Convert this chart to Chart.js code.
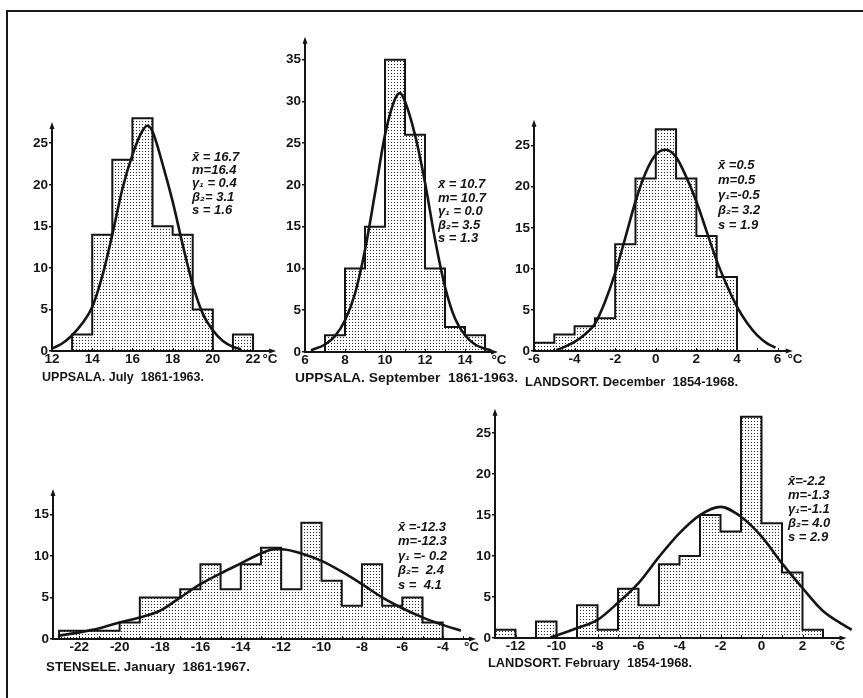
<!DOCTYPE html>
<html><head><meta charset="utf-8">
<script src="https://cdn.jsdelivr.net/npm/chart.js@4"></script>
<style>
html,body{margin:0;padding:0;background:#fff;}
body{width:863px;height:698px;position:relative;overflow:hidden;}
canvas.p{position:absolute;left:0;top:0;}
#frame{position:absolute;left:6px;top:10px;width:900px;height:720px;border-left:2px solid #1a1a1a;border-top:2px solid #1a1a1a;}
</style></head><body>
<div id="frame"></div>
<canvas id="c1" class="p" width="863" height="698"></canvas>
<canvas id="c2" class="p" width="863" height="698"></canvas>
<canvas id="c3" class="p" width="863" height="698"></canvas>
<canvas id="c4" class="p" width="863" height="698"></canvas>
<canvas id="c5" class="p" width="863" height="698"></canvas>
<script>
// ---------------- DATA ----------------
// Uppsala, July 1861-1963 (1 °C classes)
const julyBinStart = 13;
const julyCounts = [2, 14, 23, 28, 15, 14, 5, 0, 2];
const julyCurveX = [12, 12.5, 13, 13.5, 14, 14.5, 15, 15.5, 16, 16.5, 16.75, 17, 17.5, 18, 18.5, 19, 19.5, 20, 20.5, 21, 21.4];
const julyCurveY = [0.3, 0.9, 1.9, 3.3, 5.3, 9, 14, 19.5, 23.6, 26.5, 27.1, 26.4, 22.5, 18, 12.8, 8, 4.5, 2.5, 1.2, 0.5, 0.2];
const julyXTicks = [12, 14, 16, 18, 20, 22];
const julyYTicks = [0, 5, 10, 15, 20, 25];
const julyStats = ['x\u0304 = 16.7', 'm=16.4', '\u03b3\u2081 = 0.4', '\u03b2\u2082= 3.1', 's = 1.6'];
const julyCaption = 'UPPSALA. July  1861-1963.';

// Uppsala, September 1861-1963
const septBinStart = 7;
const septCounts = [2, 10, 15, 35, 26, 10, 3, 2];
const septCurveX = [6.3, 7, 7.5, 8, 8.5, 9, 9.5, 10, 10.5, 10.75, 11, 11.5, 12, 12.5, 13, 13.5, 14, 14.5, 15, 15.3];
const septCurveY = [0.2, 0.9, 1.9, 3.8, 7, 12.2, 19, 26, 30.3, 31, 30, 26, 20.3, 13.5, 7.8, 4, 2, 0.9, 0.4, 0.2];
const septXTicks = [6, 8, 10, 12, 14];
const septYTicks = [0, 5, 10, 15, 20, 25, 30, 35];
const septStats = ['x\u0304 = 10.7', 'm= 10.7', '\u03b3\u2081 = 0.0', '\u03b2\u2082= 3.5', 's = 1.3'];
const septCaption = 'UPPSALA. September  1861-1963.';

// Landsort, December 1854-1968
const decBinStart = -6;
const decCounts = [1, 2, 3, 4, 13, 21, 27, 21, 14, 9];
const decCurveX = [-4.9, -4.5, -4, -3.5, -3, -2.5, -2, -1.5, -1, -0.5, 0, 0.5, 1, 1.5, 2, 2.5, 3, 3.5, 4, 4.5, 5, 5.5, 5.9];
const decCurveY = [0.1, 0.5, 1.1, 2, 3.3, 6, 9.5, 13.8, 18.2, 21.7, 23.9, 24.5, 23.6, 21.2, 18.2, 14.6, 11, 8, 5.4, 3.4, 1.9, 0.9, 0.4];
const decXTicks = [-6, -4, -2, 0, 2, 4, 6];
const decYTicks = [0, 5, 10, 15, 20, 25];
const decStats = ['x\u0304 =0.5', 'm=0.5', '\u03b3\u2081=-0.5', '\u03b2\u2082= 3.2', 's = 1.9'];
const decCaption = 'LANDSORT. December  1854-1968.';

// Stensele, January 1861-1967
const janBinStart = -23;
const janCounts = [1, 1, 1, 2, 5, 5, 6, 9, 6, 9, 11, 6, 14, 7, 4, 9, 4, 5, 2];
const janCurveX = [-23, -22, -21, -20, -19, -18, -17, -16, -15, -14, -13, -12.3, -12, -11, -10, -9, -8, -7, -6, -5, -4, -3.1];
const janCurveY = [0.4, 0.8, 1.3, 2, 2.6, 3.4, 5, 6.6, 7.9, 9.1, 10.3, 10.8, 10.8, 10.3, 9.4, 8.1, 6.6, 5, 3.7, 2.6, 1.7, 1];
const janXTicks = [-22, -20, -18, -16, -14, -12, -10, -8, -6, -4];
const janYTicks = [0, 5, 10, 15];
const janStats = ['x\u0304 =-12.3', 'm=-12.3', '\u03b3\u2081 =- 0.2', '\u03b2\u2082=  2.4', 's =  4.1'];
const janCaption = 'STENSELE. January  1861-1967.';

// Landsort, February 1854-1968
const febBinStart = -13;
const febCounts = [1, 0, 2, 0, 4, 1, 6, 4, 9, 10, 15, 13, 27, 14, 8, 1];
const febCurveX = [-10.3, -10, -9, -8, -7, -6, -5, -4, -3, -2, -1, 0, 1, 2, 3, 4, 4.4];
const febCurveY = [0.1, 0.3, 1.2, 2.2, 4.3, 6.7, 9.9, 12.8, 15, 16, 14.8, 12.4, 9.1, 6.1, 3.3, 1.6, 1.0];
const febXTicks = [-12, -10, -8, -6, -4, -2, 0, 2];
const febYTicks = [0, 5, 10, 15, 20, 25];
const febStats = ['x\u0304=-2.2', 'm=-1.3', '\u03b3\u2081=-1.1', '\u03b2\u2082= 4.0', 's = 2.9'];
const febCaption = 'LANDSORT. February  1854-1968.';

// ---------------- LAYOUT / STYLE ----------------
const INK = '#151515';
const TICK_FONT = {family: '"Liberation Sans", Arial, sans-serif', size: 13.5, weight: 'bold'};
const Y_BOX = 30;   // width reserved for y tick labels
const X_BOX = 20;   // height reserved for x tick labels

const panels = [
  {id: 'c1', binStart: julyBinStart, counts: julyCounts, cx: julyCurveX, cy: julyCurveY,
   xTicks: julyXTicks, yTicks: julyYTicks, stats: julyStats, caption: julyCaption,
   area: {left: 52, right: 283.2, top: 110, bottom: 351}, xMin: 12, xMax: 23.5, yMax: 29,
   axisXEnd: 23, axisYEnd: 27.2, degX: 270, statsX: 192, statsY: 157, statsDy: 13.4, capX: 42, capY: 377, capW: 162},
  {id: 'c2', binStart: septBinStart, counts: septCounts, cx: septCurveX, cy: septCurveY,
   xTicks: septXTicks, yTicks: septYTicks, stats: septStats, caption: septCaption,
   area: {left: 305, right: 499, top: 38, bottom: 352}, xMin: 6, xMax: 15.7, yMax: 37.6,
   axisXEnd: 15.5, axisYEnd: 37.4, degX: 499, statsX: 438, statsY: 184.5, statsDy: 13.5, capX: 295, capY: 378, capW: 223},
  {id: 'c3', binStart: decBinStart, counts: decCounts, cx: decCurveX, cy: decCurveY,
   xTicks: decXTicks, yTicks: decYTicks, stats: decStats, caption: decCaption,
   area: {left: 534, right: 793.8, top: 121, bottom: 351}, xMin: -6, xMax: 6.8, yMax: 28,
   axisXEnd: 6.6, axisYEnd: 27.8, degX: 795, statsX: 718, statsY: 165, statsDy: 15, capX: 525, capY: 382, capW: 213},
  {id: 'c4', binStart: janBinStart, counts: janCounts, cx: janCurveX, cy: janCurveY,
   xTicks: janXTicks, yTicks: janYTicks, stats: janStats, caption: janCaption,
   area: {left: 53, right: 473, top: 492, bottom: 639}, xMin: -23.3, xMax: -2.5, yMax: 17.7,
   axisXEnd: -2.5, axisYEnd: 17.7, degX: 471.5, statsX: 398, statsY: 527, statsDy: 14.5, capX: 46, capY: 667, capW: 204},
  {id: 'c5', binStart: febBinStart, counts: febCounts, cx: febCurveX, cy: febCurveY,
   xTicks: febXTicks, yTicks: febYTicks, stats: febStats, caption: febCaption,
   area: {left: 495, right: 853.75, top: 411, bottom: 638}, xMin: -13, xMax: 4.5, yMax: 27.7,
   axisXEnd: 4, axisYEnd: 27.6, degX: 837.5, statsX: 788, statsY: 481, statsDy: 14.2, capX: 488, capY: 663, capW: 204}
];

function histPoints(start, counts) {
  const pts = [{x: start, y: 0}];
  counts.forEach((c, i) => pts.push({x: start + i, y: c}));
  pts.push({x: start + counts.length, y: 0});
  return pts;
}
function curvePoints(xs, ys) { return xs.map((x, i) => ({x: x, y: ys[i]})); }

function makeDeco(p) {
  return {
    id: 'deco_' + p.id,
    afterDraw(chart) {
      const ctx = chart.ctx, xs = chart.scales.x, ys = chart.scales.y;
      const x0 = xs.getPixelForValue(p.xMin), y0 = ys.getPixelForValue(0);
      const xe = xs.getPixelForValue(p.axisXEnd), ye = ys.getPixelForValue(p.axisYEnd);
      ctx.save();
      ctx.strokeStyle = INK; ctx.fillStyle = INK; ctx.lineWidth = 2;
      ctx.beginPath(); ctx.moveTo(xe, y0); ctx.lineTo(x0, y0); ctx.lineTo(x0, ye); ctx.stroke();
      ctx.beginPath(); ctx.moveTo(xe + 3, y0); ctx.lineTo(xe - 4, y0 - 2.5); ctx.lineTo(xe - 4, y0 + 2.5); ctx.closePath(); ctx.fill();
      ctx.beginPath(); ctx.moveTo(x0, ye - 3); ctx.lineTo(x0 - 2.5, ye + 4); ctx.lineTo(x0 + 2.5, ye + 4); ctx.closePath(); ctx.fill();
      // small tick marks on x axis at every degree
      ctx.lineWidth = 1;
      ctx.beginPath();
      for (let v = Math.ceil(p.xMin); v <= p.axisXEnd - 0.5; v++) {
        const px = Math.round(xs.getPixelForValue(v)) + 0.5;
        ctx.moveTo(px, y0); ctx.lineTo(px, y0 - 3);
      }
      ctx.stroke();
      ctx.font = 'bold 13.5px "Liberation Sans", Arial, sans-serif';
      ctx.textAlign = 'center'; ctx.textBaseline = 'middle';
      ctx.fillText('\u00b0C', p.degX, y0 + 8);
      ctx.font = 'italic bold 13px "Liberation Sans", Arial, sans-serif';
      ctx.textAlign = 'left';
      p.stats.forEach((t, i) => ctx.fillText(t, p.statsX, p.statsY + i * p.statsDy));
      ctx.font = 'bold 13px "Liberation Sans", Arial, sans-serif';
      const w = ctx.measureText(p.caption).width;
      ctx.translate(p.capX, p.capY);
      ctx.scale(p.capW / w, 1);
      ctx.fillText(p.caption, 0, 0);
      ctx.restore();
    }
  };
}

panels.forEach(p => {
  const canvas = document.getElementById(p.id);
  const ctx = canvas.getContext('2d');
  const tile = document.createElement('canvas');
  tile.width = 3; tile.height = 3;
  const tctx = tile.getContext('2d');
  tctx.fillStyle = '#2a2a2a';
  tctx.fillRect(1, 1, 1, 1);
  const pattern = ctx.createPattern(tile, 'repeat');

  new Chart(ctx, {
    type: 'line',
    data: {
      datasets: [
        {data: curvePoints(p.cx, p.cy), borderColor: INK, borderWidth: 2.6, pointRadius: 0,
         fill: false, cubicInterpolationMode: 'monotone', clip: false, order: 0},
        {data: histPoints(p.binStart, p.counts), stepped: true, borderColor: INK, borderWidth: 2,
         backgroundColor: pattern, fill: 'origin', pointRadius: 0, borderJoinStyle: 'miter', clip: false, order: 1}
      ]
    },
    options: {
      responsive: false, animation: false, events: [],
      layout: {padding: {left: p.area.left - Y_BOX, right: 863 - p.area.right, top: p.area.top,
                         bottom: 698 - p.area.bottom - X_BOX}},
      plugins: {legend: {display: false}, tooltip: {enabled: false}},
      scales: {
        x: {type: 'linear', min: p.xMin, max: p.xMax,
            afterFit: s => { s.height = X_BOX; s.paddingLeft = 0; s.paddingRight = 0; },
            afterBuildTicks: s => { s.ticks = p.xTicks.map(v => ({value: v})); },
            grid: {display: false, drawTicks: false}, border: {display: false},
            ticks: {font: TICK_FONT, color: INK, padding: 0, maxRotation: 0, autoSkip: false,
                    callback: v => String(v)}},
        y: {type: 'linear', min: 0, max: p.yMax,
            afterFit: s => { s.width = Y_BOX; s.paddingTop = 0; s.paddingBottom = 0; },
            afterBuildTicks: s => { s.ticks = p.yTicks.map(v => ({value: v})); },
            grid: {display: true, drawOnChartArea: false, drawTicks: true, tickLength: 3, color: INK, lineWidth: 1.5},
            border: {display: false},
            ticks: {font: TICK_FONT, color: INK, padding: 1, autoSkip: false, callback: v => String(v)}}
      }
    },
    plugins: [makeDeco(p)]
  });
});
</script>
</body></html>
